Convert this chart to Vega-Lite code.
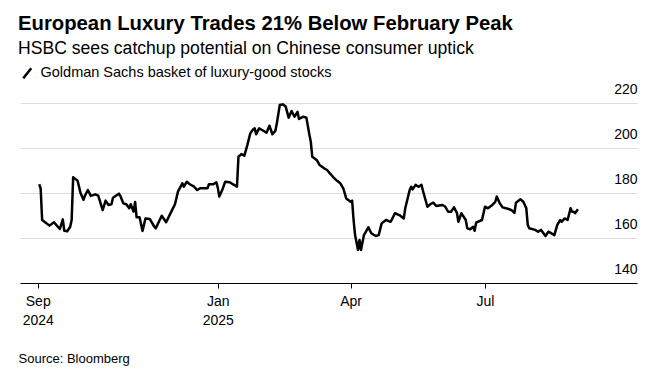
{
  "$schema": "https://vega.github.io/schema/vega-lite/v6.json",
  "width": 617,
  "height": 180,
  "autosize": {"type": "none"},
  "padding": {"left": 20, "top": 103, "right": 23, "bottom": 96},
  "background": "white",
  "config": {
    "font": "Liberation Sans, Arial, sans-serif",
    "view": {"stroke": null}
  },
  "title": {
    "text": "European Luxury Trades 21% Below February Peak",
    "subtitle": "HSBC sees catchup potential on Chinese consumer uptick",
    "anchor": "start",
    "frame": "group",
    "dx": -2,
    "offset": 8,
    "fontSize": 20.3,
    "fontWeight": "bold",
    "color": "#000000",
    "subtitleFontSize": 17.6,
    "subtitleColor": "#000000",
    "subtitlePadding": 6
  },
  "data": {
    "values": [
      {"date": "2024-09-02", "value": 183.9},
      {"date": "2024-09-03", "value": 182},
      {"date": "2024-09-04", "value": 168},
      {"date": "2024-09-06", "value": 167},
      {"date": "2024-09-09", "value": 165.5},
      {"date": "2024-09-12", "value": 167},
      {"date": "2024-09-14", "value": 165.5},
      {"date": "2024-09-16", "value": 164},
      {"date": "2024-09-18", "value": 168.3},
      {"date": "2024-09-19", "value": 163.2},
      {"date": "2024-09-21", "value": 163},
      {"date": "2024-09-23", "value": 165},
      {"date": "2024-09-24", "value": 168},
      {"date": "2024-09-25", "value": 187},
      {"date": "2024-09-28", "value": 185.5},
      {"date": "2024-09-30", "value": 180},
      {"date": "2024-10-02", "value": 177},
      {"date": "2024-10-03", "value": 178.8},
      {"date": "2024-10-05", "value": 181.3},
      {"date": "2024-10-07", "value": 178.7},
      {"date": "2024-10-10", "value": 179.4},
      {"date": "2024-10-12", "value": 178.8},
      {"date": "2024-10-15", "value": 172.4},
      {"date": "2024-10-17", "value": 176.6},
      {"date": "2024-10-19", "value": 174.7},
      {"date": "2024-10-21", "value": 175},
      {"date": "2024-10-22", "value": 177.9},
      {"date": "2024-10-26", "value": 179.7},
      {"date": "2024-10-27", "value": 178.7},
      {"date": "2024-10-29", "value": 175.4},
      {"date": "2024-10-31", "value": 175},
      {"date": "2024-11-02", "value": 173.2},
      {"date": "2024-11-03", "value": 175},
      {"date": "2024-11-05", "value": 171.7},
      {"date": "2024-11-06", "value": 176},
      {"date": "2024-11-07", "value": 169.2},
      {"date": "2024-11-09", "value": 169.2},
      {"date": "2024-11-11", "value": 163.1},
      {"date": "2024-11-13", "value": 168.7},
      {"date": "2024-11-16", "value": 168.4},
      {"date": "2024-11-19", "value": 165},
      {"date": "2024-11-20", "value": 164.3},
      {"date": "2024-11-24", "value": 169.9},
      {"date": "2024-11-27", "value": 167},
      {"date": "2024-12-01", "value": 172.4},
      {"date": "2024-12-03", "value": 175},
      {"date": "2024-12-05", "value": 180.6},
      {"date": "2024-12-08", "value": 184.3},
      {"date": "2024-12-09", "value": 182.8},
      {"date": "2024-12-11", "value": 185},
      {"date": "2024-12-13", "value": 183.9},
      {"date": "2024-12-16", "value": 182.8},
      {"date": "2024-12-18", "value": 181.3},
      {"date": "2024-12-20", "value": 182.1},
      {"date": "2024-12-25", "value": 182.1},
      {"date": "2024-12-26", "value": 183.9},
      {"date": "2024-12-29", "value": 183.9},
      {"date": "2024-12-31", "value": 184.8},
      {"date": "2025-01-01", "value": 182.4},
      {"date": "2025-01-02", "value": 178.4},
      {"date": "2025-01-04", "value": 181.3},
      {"date": "2025-01-06", "value": 185},
      {"date": "2025-01-09", "value": 184.8},
      {"date": "2025-01-12", "value": 183.6},
      {"date": "2025-01-14", "value": 182.8},
      {"date": "2025-01-15", "value": 196.1},
      {"date": "2025-01-17", "value": 197.3},
      {"date": "2025-01-19", "value": 196.6},
      {"date": "2025-01-21", "value": 201.3},
      {"date": "2025-01-23", "value": 206.5},
      {"date": "2025-01-25", "value": 208.3},
      {"date": "2025-01-26", "value": 208.7},
      {"date": "2025-01-27", "value": 206.1},
      {"date": "2025-01-29", "value": 208.7},
      {"date": "2025-01-31", "value": 208},
      {"date": "2025-02-03", "value": 206.8},
      {"date": "2025-02-05", "value": 209.9},
      {"date": "2025-02-07", "value": 206.1},
      {"date": "2025-02-09", "value": 207.6},
      {"date": "2025-02-10", "value": 211},
      {"date": "2025-02-12", "value": 219.1},
      {"date": "2025-02-14", "value": 219.4},
      {"date": "2025-02-16", "value": 218.4},
      {"date": "2025-02-18", "value": 213.5},
      {"date": "2025-02-20", "value": 216.4},
      {"date": "2025-02-22", "value": 213.9},
      {"date": "2025-02-24", "value": 216.1},
      {"date": "2025-02-25", "value": 212.9},
      {"date": "2025-02-28", "value": 213.9},
      {"date": "2025-03-02", "value": 213.5},
      {"date": "2025-03-04", "value": 206.1},
      {"date": "2025-03-05", "value": 202.8},
      {"date": "2025-03-06", "value": 196.1},
      {"date": "2025-03-09", "value": 194.7},
      {"date": "2025-03-11", "value": 192.4},
      {"date": "2025-03-14", "value": 191},
      {"date": "2025-03-16", "value": 190.2},
      {"date": "2025-03-18", "value": 188.7},
      {"date": "2025-03-20", "value": 187.2},
      {"date": "2025-03-23", "value": 185.3},
      {"date": "2025-03-25", "value": 184.3},
      {"date": "2025-03-27", "value": 182.1},
      {"date": "2025-03-29", "value": 177.6},
      {"date": "2025-04-01", "value": 176.1},
      {"date": "2025-04-02", "value": 176.6},
      {"date": "2025-04-03", "value": 168},
      {"date": "2025-04-04", "value": 161.3},
      {"date": "2025-04-06", "value": 154.7},
      {"date": "2025-04-07", "value": 159.1},
      {"date": "2025-04-08", "value": 154.7},
      {"date": "2025-04-10", "value": 161.3},
      {"date": "2025-04-13", "value": 164.7},
      {"date": "2025-04-15", "value": 162.1},
      {"date": "2025-04-18", "value": 160.9},
      {"date": "2025-04-20", "value": 161.3},
      {"date": "2025-04-22", "value": 166.5},
      {"date": "2025-04-25", "value": 168},
      {"date": "2025-04-28", "value": 167.2},
      {"date": "2025-04-29", "value": 168.3},
      {"date": "2025-05-01", "value": 171},
      {"date": "2025-05-04", "value": 170.2},
      {"date": "2025-05-07", "value": 168.7},
      {"date": "2025-05-08", "value": 173.2},
      {"date": "2025-05-11", "value": 181.3},
      {"date": "2025-05-12", "value": 182.8},
      {"date": "2025-05-13", "value": 181.6},
      {"date": "2025-05-15", "value": 183.6},
      {"date": "2025-05-17", "value": 182.8},
      {"date": "2025-05-19", "value": 183.6},
      {"date": "2025-05-20", "value": 181},
      {"date": "2025-05-23", "value": 173.9},
      {"date": "2025-05-25", "value": 175},
      {"date": "2025-05-27", "value": 175.7},
      {"date": "2025-05-29", "value": 174.2},
      {"date": "2025-06-02", "value": 174.7},
      {"date": "2025-06-04", "value": 174},
      {"date": "2025-06-06", "value": 171.7},
      {"date": "2025-06-08", "value": 171.7},
      {"date": "2025-06-10", "value": 173.6},
      {"date": "2025-06-12", "value": 171.2},
      {"date": "2025-06-13", "value": 167.2},
      {"date": "2025-06-15", "value": 171},
      {"date": "2025-06-18", "value": 168},
      {"date": "2025-06-19", "value": 164.3},
      {"date": "2025-06-21", "value": 163.9},
      {"date": "2025-06-23", "value": 165},
      {"date": "2025-06-24", "value": 163.2},
      {"date": "2025-06-25", "value": 166.8},
      {"date": "2025-06-29", "value": 168},
      {"date": "2025-07-01", "value": 173.9},
      {"date": "2025-07-03", "value": 173.2},
      {"date": "2025-07-06", "value": 174.7},
      {"date": "2025-07-08", "value": 176.1},
      {"date": "2025-07-09", "value": 178.4},
      {"date": "2025-07-11", "value": 175.4},
      {"date": "2025-07-13", "value": 173.6},
      {"date": "2025-07-17", "value": 172.9},
      {"date": "2025-07-19", "value": 172.4},
      {"date": "2025-07-21", "value": 171.2},
      {"date": "2025-07-22", "value": 175.7},
      {"date": "2025-07-25", "value": 177.2},
      {"date": "2025-07-27", "value": 176.1},
      {"date": "2025-07-29", "value": 173.2},
      {"date": "2025-07-30", "value": 165.8},
      {"date": "2025-07-31", "value": 164.3},
      {"date": "2025-08-04", "value": 163.6},
      {"date": "2025-08-06", "value": 162.8},
      {"date": "2025-08-08", "value": 163.6},
      {"date": "2025-08-11", "value": 160.9},
      {"date": "2025-08-13", "value": 162.8},
      {"date": "2025-08-15", "value": 162.1},
      {"date": "2025-08-17", "value": 161.3},
      {"date": "2025-08-19", "value": 165.8},
      {"date": "2025-08-21", "value": 168},
      {"date": "2025-08-22", "value": 167.2},
      {"date": "2025-08-24", "value": 168.7},
      {"date": "2025-08-26", "value": 168},
      {"date": "2025-08-28", "value": 173.2},
      {"date": "2025-08-29", "value": 171.7},
      {"date": "2025-08-30", "value": 171.7},
      {"date": "2025-08-31", "value": 171},
      {"date": "2025-09-02", "value": 172.8}
    ]
  },
  "mark": {"type": "line", "strokeWidth": 2.5, "strokeJoin": "round", "strokeCap": "butt"},
  "encoding": {
    "x": {
      "field": "date",
      "type": "temporal",
      "scale": {"type": "utc", "domain": ["2024-08-20", "2025-10-12"]},
      "axis": {
        "values": [
          {"year": 2024, "month": 9, "date": 1, "utc": true},
          {"year": 2025, "month": 1, "date": 1, "utc": true},
          {"year": 2025, "month": 4, "date": 1, "utc": true},
          {"year": 2025, "month": 7, "date": 1, "utc": true}
        ],
        "labelExpr": "(utcmonth(datum.value) === 0 || utcmonth(datum.value) === 8) ? [utcFormat(datum.value, '%b'), utcFormat(datum.value, '%Y')] : utcFormat(datum.value, '%b')",
        "grid": false,
        "domainColor": "#000000",
        "domainWidth": 1,
        "tickColor": "#000000",
        "tickSize": 5,
        "tickWidth": 1,
        "labelFontSize": 14,
        "labelColor": "#000000",
        "labelPadding": 6,
        "labelLineHeight": 19,
        "labelFlush": false,
        "labelOverlap": false,
        "title": "Source: Bloomberg",
        "titleFontSize": 13,
        "titleFontWeight": "normal",
        "titleColor": "#000000",
        "titleAlign": "left",
        "titleAnchor": "start",
        "titleBaseline": "alphabetic",
        "titleX": -2,
        "titleY": 79
      }
    },
    "y": {
      "field": "value",
      "type": "quantitative",
      "scale": {"domain": [140, 220], "nice": false, "zero": false},
      "axis": {
        "orient": "right",
        "values": [140, 160, 180, 200, 220],
        "title": null,
        "domain": false,
        "ticks": false,
        "tickSize": 0,
        "labelAlign": "right",
        "labelBaseline": "alphabetic",
        "labelPadding": 0,
        "labelOffset": -10,
        "labelFontSize": 14,
        "labelColor": "#000000",
        "gridColor": "#dddddd",
        "gridWidth": 1
      }
    },
    "color": {
      "datum": "Goldman Sachs basket of luxury-good stocks",
      "type": "nominal",
      "scale": {"range": ["#000000"]},
      "legend": {
        "title": null,
        "orient": "none",
        "legendX": 0,
        "legendY": -37,
        "padding": 0,
        "symbolType": "M-0.8,1L0.8,-1",
        "symbolSize": 100,
        "symbolStrokeWidth": 2.5,
        "symbolStrokeColor": "#000000",
        "symbolFillColor": "transparent",
        "labelFontSize": 14.5,
        "labelColor": "#000000",
        "labelOffset": 6,
        "labelLimit": 500
      }
    }
  }
}
